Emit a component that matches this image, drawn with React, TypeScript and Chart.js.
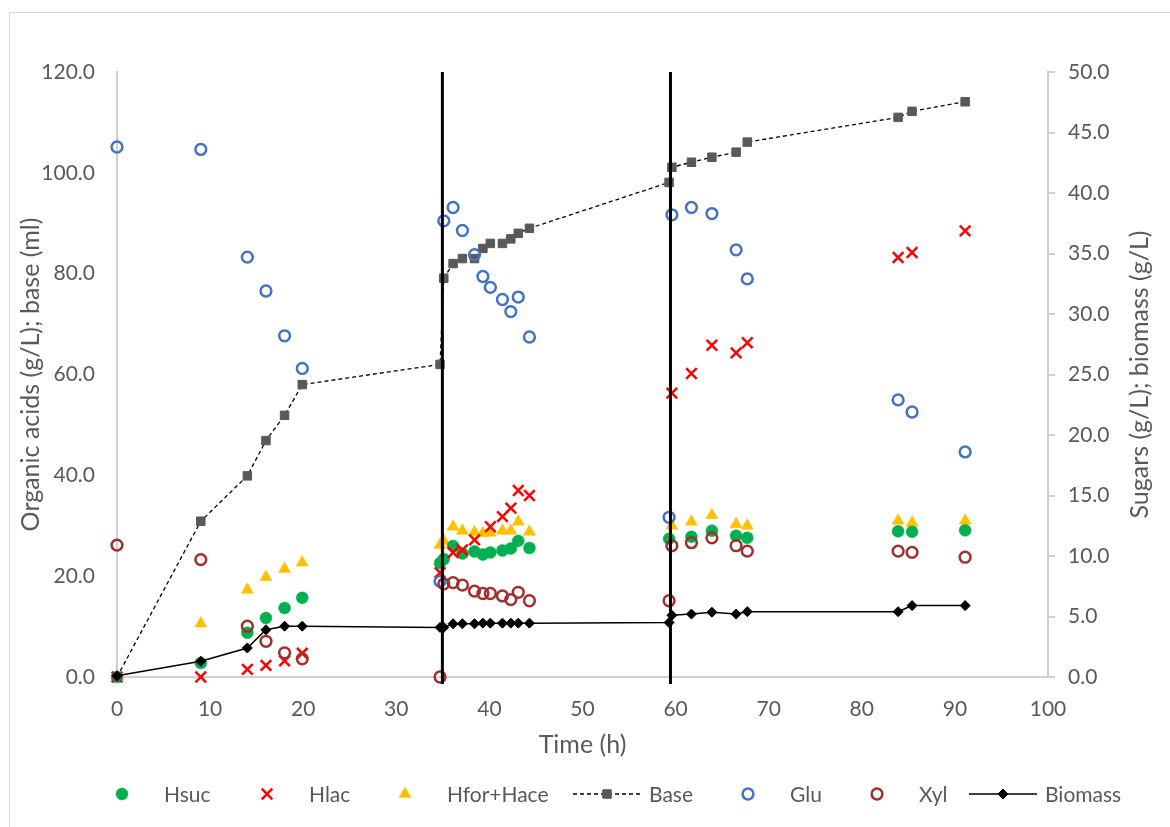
import React, { useEffect, useRef } from 'react';
import { Chart, registerables } from 'chart.js';
import { drawPoint } from 'chart.js/helpers';

Chart.register(...registerables);

// ---- Data ----
const times = [0, 9.0, 14.0, 16.0, 18.0, 19.9, 34.7, 35.1, 36.1, 37.1, 38.4, 39.3, 40.1, 41.4, 42.3, 43.1, 44.3, 59.3, 59.6, 61.7, 63.9, 66.5, 67.7, 83.9, 85.4, 91.1];
const hsuc = [0, 2.8, 8.8, 11.7, 13.7, 15.7, 22.6, 23.4, 26.0, 24.5, 24.9, 24.3, 24.7, 25.1, 25.5, 27.0, 25.6, 27.4, null, 27.8, 29.0, 28.0, 27.6, 28.9, 28.8, 29.1];
const hlac = [0, 0, 1.5, 2.3, 3.2, 4.7, 20.7, null, 24.7, 25.2, 27.2, null, 29.8, 31.8, 33.5, 37.0, 36.0, null, 56.3, 60.2, 65.8, 64.3, 66.3, 83.2, 84.2, 88.5];
const hforHace = [0, 10.6, 17.3, 19.8, 21.4, 22.7, 26.2, 27.0, 29.8, 29.0, 28.7, 28.5, 28.6, 29.0, 29.0, 30.8, 28.8, null, 30.0, 30.8, 32.1, 30.3, 30.0, 31.0, 30.6, 31.0];
const base = [0, 30.9, 39.9, 46.9, 51.9, 58.0, 62.0, 79.1, 82.0, 83.0, 83.0, 85.0, 86.0, 86.0, 86.9, 88.0, 89.0, 98.1, 101.1, 102.1, 103.1, 104.1, 106.1, 111.0, 112.2, 114.1];
const glu = [43.8, 43.6, 34.7, 31.9, 28.2, 25.5, 7.9, 37.7, 38.8, 36.9, 34.9, 33.1, 32.2, 31.2, 30.2, 31.4, 28.1, 13.2, 38.2, 38.8, 38.3, 35.3, 32.9, 22.9, 21.9, 18.6];
const xyl = [10.9, 9.7, 4.2, 2.95, 2.0, 1.5, 0, 7.7, 7.8, 7.6, 7.1, 6.9, 6.9, 6.7, 6.4, 7.0, 6.3, 6.3, 10.85, 11.1, 11.5, 10.85, 10.4, 10.4, 10.3, 9.9];
const biomass = [0.1, 1.3, 2.4, 3.9, 4.2, 4.2, 4.1, 4.1, 4.4, 4.4, 4.4, 4.45, 4.45, 4.45, 4.45, 4.45, 4.45, 4.5, 5.1, 5.2, 5.35, 5.2, 5.4, 5.4, 5.9, 5.9];
const feedTimes = [34.95, 59.45];

const xTicks = { min: 0, max: 100, step: 10 };
const leftTicks = { min: 0, max: 120, step: 20 };
const rightTicks = { min: 0, max: 50, step: 5 };

const xTitle = 'Time (h)';
const leftTitle = 'Organic acids (g/L); base (ml)';
const rightTitle = 'Sugars (g/L); biomass (g/L)';

// ---- Styles ----
const FONT = 'Lato, "Open Sans", "DejaVu Sans", sans-serif';
const TEXT = '#595959';
const AXIS = '#d0d0d0';
const TITLE_SIZE = 25;

type Series = {
  label: string;
  values: (number | null)[];
  axis: 'y' | 'y2';
  pointStyle: string;
  radius: number;
  fill: string;
  stroke: string;
  borderWidth: number;
  line?: { color: string; width: number; dash: number[] };
  order: number;
};

const series: Series[] = [
  { label: 'Hsuc', values: hsuc, axis: 'y', pointStyle: 'circle', radius: 6, fill: '#00B050', stroke: '#00B050', borderWidth: 0.5, order: 7 },
  { label: 'Hlac', values: hlac, axis: 'y', pointStyle: 'crossRot', radius: 7.5, fill: '#FF0000', stroke: '#FF0000', borderWidth: 2.5, order: 6 },
  { label: 'Hfor+Hace', values: hforHace, axis: 'y', pointStyle: 'triangle', radius: 7, fill: '#FFC000', stroke: '#FFC000', borderWidth: 0.5, order: 8 },
  { label: 'Base', values: base, axis: 'y', pointStyle: 'rect', radius: 6, fill: '#595959', stroke: '#595959', borderWidth: 1, line: { color: '#000000', width: 1.3, dash: [4, 3] }, order: 5 },
  { label: 'Glu', values: glu, axis: 'y2', pointStyle: 'circle', radius: 5.4, fill: 'rgba(0,0,0,0)', stroke: '#4472C4', borderWidth: 2.5, order: 4 },
  { label: 'Xyl', values: xyl, axis: 'y2', pointStyle: 'circle', radius: 5.4, fill: 'rgba(0,0,0,0)', stroke: '#A0302F', borderWidth: 2.5, order: 3 },
  { label: 'Biomass', values: biomass, axis: 'y2', pointStyle: 'rectRot', radius: 5, fill: '#000000', stroke: '#000000', borderWidth: 1, line: { color: '#000000', width: 1.5, dash: [] }, order: 2 },
];

function toPoints(values: (number | null)[]) {
  const out: { x: number; y: number }[] = [];
  times.forEach((t, i) => {
    const v = values[i];
    if (v !== null && v !== undefined) out.push({ x: t, y: v });
  });
  return out;
}

// Legend layout (Excel-like single row)
const LEGEND_Y = 794;
const LEGEND_MARKER_X = [122, 267, 405, 607, 748, 877, 1003];
const LEGEND_TEXT_GAP = 42;
const LEGEND_LINE_HALF = 34;

const legendPlugin = {
  id: 'xlLegend',
  afterDraw(chart: any) {
    const ctx = chart.ctx as CanvasRenderingContext2D;
    ctx.save();
    series.forEach((s, i) => {
      const mx = LEGEND_MARKER_X[i];
      if (s.line) {
        ctx.save();
        ctx.strokeStyle = s.line.color;
        ctx.lineWidth = s.line.width;
        ctx.setLineDash(s.line.dash);
        ctx.beginPath();
        ctx.moveTo(mx - LEGEND_LINE_HALF, LEGEND_Y);
        ctx.lineTo(mx + LEGEND_LINE_HALF, LEGEND_Y);
        ctx.stroke();
        ctx.restore();
      }
      ctx.save();
      ctx.fillStyle = s.fill;
      ctx.strokeStyle = s.stroke;
      ctx.lineWidth = s.borderWidth;
      ctx.setLineDash([]);
      drawPoint(ctx, { pointStyle: s.pointStyle as any, radius: s.radius, rotation: 0, borderWidth: s.borderWidth } as any, mx, LEGEND_Y);
      ctx.restore();
      ctx.fillStyle = TEXT;
      ctx.font = `21px ${FONT}`;
      ctx.textAlign = 'left';
      ctx.textBaseline = 'middle';
      ctx.fillText(s.label, mx + LEGEND_TEXT_GAP, LEGEND_Y + 1);
    });
    ctx.restore();
  },
};

// Right axis title reads bottom-to-top, like the left one
const rightTitlePlugin = {
  id: 'rightTitle',
  afterDraw(chart: any) {
    const ctx = chart.ctx as CanvasRenderingContext2D;
    const area = chart.chartArea;
    ctx.save();
    ctx.translate(chart.width - 30, (area.top + area.bottom) / 2);
    ctx.rotate(-Math.PI / 2);
    ctx.fillStyle = TEXT;
    ctx.font = `${TITLE_SIZE}px ${FONT}`;
    ctx.textAlign = 'center';
    ctx.textBaseline = 'middle';
    ctx.fillText(rightTitle, 0, 0);
    ctx.restore();
  },
};

const feedLinePlugin = {
  id: 'feedLines',
  afterDatasetsDraw(chart: any) {
    const ctx = chart.ctx as CanvasRenderingContext2D;
    const xs = chart.scales.x;
    const area = chart.chartArea;
    ctx.save();
    ctx.strokeStyle = '#000000';
    ctx.lineWidth = 3;
    feedTimes.forEach((t) => {
      const px = xs.getPixelForValue(t);
      ctx.beginPath();
      ctx.moveTo(px, area.top);
      ctx.lineTo(px, area.bottom + 7);
      ctx.stroke();
    });
    ctx.restore();
  },
};

const fmt1 = (v: any) => Number(v).toFixed(1);

export default function App() {
  const ref = useRef<HTMLCanvasElement | null>(null);

  useEffect(() => {
    if (!ref.current) return;
    Chart.defaults.font.family = FONT;
    const datasets: any[] = series.map((s) => ({
      label: s.label,
      data: toPoints(s.values),
      yAxisID: s.axis,
      showLine: !!s.line,
      borderColor: s.line ? s.line.color : s.stroke,
      borderWidth: s.line ? s.line.width : 0,
      borderDash: s.line ? s.line.dash : [],
      pointStyle: s.pointStyle,
      pointRadius: s.radius,
      pointHoverRadius: s.radius,
      pointBackgroundColor: s.fill,
      pointBorderColor: s.stroke,
      pointBorderWidth: s.borderWidth,
      tension: 0,
      clip: false,
      order: s.order,
    }));

    const chart = new Chart(ref.current, {
      type: 'scatter',
      data: { datasets },
      plugins: [feedLinePlugin, legendPlugin, rightTitlePlugin],
      options: {
        responsive: false,
        animation: false,
        events: [],
        layout: { padding: { top: 72, left: 0, right: 0, bottom: 0 } },
        plugins: { legend: { display: false }, tooltip: { enabled: false } },
        scales: {
          x: {
            type: 'linear',
            position: 'bottom',
            min: xTicks.min,
            max: xTicks.max,
            ticks: { stepSize: xTicks.step, color: TEXT, font: { size: 21, family: FONT }, padding: 20 },
            grid: { drawOnChartArea: false, drawTicks: false, color: AXIS },
            border: { color: AXIS, width: 2 },
            title: { display: true, text: xTitle, color: TEXT, font: { size: TITLE_SIZE, family: FONT }, padding: { top: 0, bottom: 67 } },
            afterFit: (s: any) => { s.height = 150; },
          },
          y: {
            type: 'linear',
            position: 'left',
            min: leftTicks.min,
            max: leftTicks.max,
            ticks: { stepSize: leftTicks.step, color: TEXT, font: { size: 21, family: FONT }, padding: 22, callback: fmt1 },
            grid: { drawOnChartArea: false, drawTicks: false, color: AXIS },
            border: { color: AXIS, width: 2 },
            title: { display: true, text: leftTitle, color: TEXT, font: { size: TITLE_SIZE, family: FONT }, padding: { top: 16, bottom: 0 } },
            afterFit: (s: any) => { s.width = 117; },
          },
          y2: {
            type: 'linear',
            position: 'right',
            min: rightTicks.min,
            max: rightTicks.max,
            ticks: { stepSize: rightTicks.step, color: TEXT, font: { size: 21, family: FONT }, padding: 13, callback: fmt1 },
            grid: { drawOnChartArea: false, drawTicks: true, tickLength: 7, color: AXIS, lineWidth: 2 },
            border: { color: AXIS, width: 2 },
            title: { display: false, text: rightTitle },
            afterFit: (s: any) => { s.width = 122; },
          },
        },
      } as any,
    });
    return () => chart.destroy();
  }, []);

  return (
    <div style={{ position: 'fixed', left: 0, top: 0, width: 1170, height: 827, background: '#ffffff', overflow: 'hidden' }}>
      <div style={{ position: 'absolute', left: 9, top: 12, width: 1200, height: 900, border: '1px solid #d9d9d9', boxSizing: 'border-box' }} />
      <canvas ref={ref} width={1170} height={827} style={{ position: 'absolute', left: 0, top: 0, width: 1170, height: 827 }} />
    </div>
  );
}
